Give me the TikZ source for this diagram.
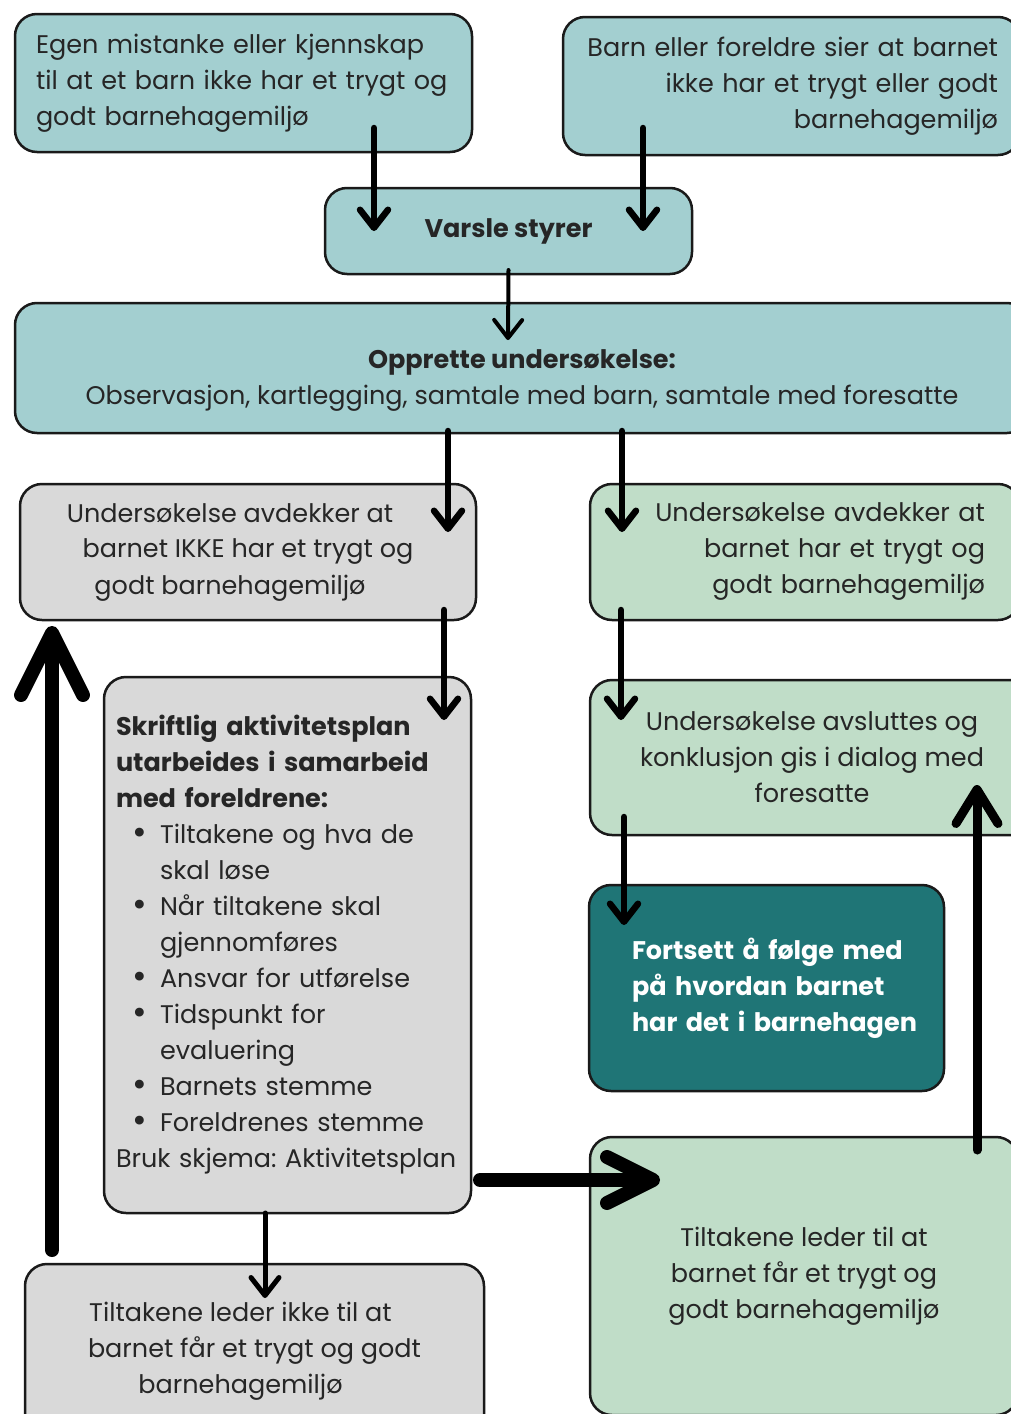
\documentclass[tikz,border=0pt]{standalone}
\usepackage{fontspec}
\setmainfont{Poppins}
\usetikzlibrary{positioning}
\usetikzlibrary{arrows.meta}

\definecolor{lightteal}{HTML}{A3CFD0}
\definecolor{lightgrey}{HTML}{D9D9D9}
\definecolor{lightgreen}{HTML}{C0DDC8}
\definecolor{darkteal}{HTML}{1F7576}
\definecolor{inktext}{HTML}{262626}
\definecolor{boxline}{HTML}{1A1A1A}

\newcommand{\bulitem}{\makebox[44pt][l]{\hspace{16pt}\raisebox{-1pt}{\scalebox{1.4}{\textbullet}}}}
\newcommand{\bulcont}{\hspace*{44pt}}

\begin{document}
\frenchspacing
\begin{tikzpicture}[x=1pt,y=-1pt,
   box/.style={draw=boxline, line width=2.5pt, rounded corners=22pt,
      anchor=north west, text=inktext, inner ysep=0pt, outer sep=0pt,
      font=\fontsize{25.5}{36}\selectfont},
   tealbox/.style={box, fill=lightteal},
   greybox/.style={box, fill=lightgrey},
   greenbox/.style={box, fill=lightgreen},
   flow/.style={line width=6.5pt, line cap=round,
      -{Straight Barb[round,length=18pt,width=28pt]}},
   bigflow/.style={line width=14pt, line cap=round,
      -{Straight Barb[round,length=#1,width=#1]}},
   ]
   \useasboundingbox (0,0) rectangle (1011,1416);
   \clip (0,-10) rectangle (1011,1413);

   % incoming concerns
   \node[tealbox, align=left, inner xsep=21pt, text width=415pt,
      minimum height=138pt] (s1) at (15,14)
      {Egen mistanke eller kjennskap\\ til at et barn ikke har et trygt og\\
       godt barnehagemiljø};
   \node[tealbox, align=right, inner xsep=22pt, text width=413pt,
      minimum height=138pt] (s2) at (563,17)
      {Barn eller foreldre sier at barnet\\ ikke har et trygt eller godt\\
       barnehagemiljø};

   % varsle styrer
   \node[tealbox, minimum width=367pt, minimum height=86pt,
      font=\fontsize{25.5}{36}\selectfont\bfseries] (v0) at (325,188)
      {Varsle styrer};

   % undersøkelse
   \node[tealbox, align=center, minimum width=1014pt, minimum height=130pt] (u0)
      at (15,303)
      {\rule{0pt}{44pt}{\bfseries Opprette undersøkelse:}\\
       Observasjon, kartlegging, samtale med barn, samtale med foresatte};

   % ikke trygt (left column)
   \node[greybox, align=center, minimum width=456pt, minimum height=136pt] (g1)
      at (20,484)
      {Undersøkelse avdekker at\hspace*{36pt}\\
       barnet IKKE har et trygt og\hspace*{36pt}\\
       godt barnehagemiljø\hspace*{36pt}};
   \node[greybox, align=left, inner xsep=12pt, text width=343pt,
      minimum height=536pt] (g2) at (104,677)
      {{\bfseries Skriftlig aktivitetsplan\\ utarbeides i samarbeid\\
       med foreldrene:}\\
       \bulitem Tiltakene og hva de\\ \bulcont skal løse\\
       \bulitem Når tiltakene skal\\ \bulcont gjennomføres\\
       \bulitem Ansvar for utførelse\\
       \bulitem Tidspunkt for\\ \bulcont evaluering\\
       \bulitem Barnets stemme\\
       \bulitem Foreldrenes stemme\\
       \mbox{Bruk skjema: Aktivitetsplan}};
   \node[greybox, align=center, minimum width=459pt, minimum height=174pt] (g3)
      at (25,1264)
      {Tiltakene leder ikke til at\hspace*{28pt}\\
       barnet får et trygt og godt\hspace*{28pt}\\
       barnehagemiljø\hspace*{28pt}};

   % trygt (right column)
   \node[greenbox, align=right, inner xsep=35pt, text width=360pt,
      minimum height=136pt] (r1) at (590,484)
      {Undersøkelse avdekker at\\ barnet har et trygt og\\
       godt barnehagemiljø};
   \node[greenbox, align=center, minimum width=444pt, minimum height=155pt] (r2)
      at (590,680)
      {Undersøkelse avsluttes og\\ konklusjon gis i dialog med\\ foresatte};
   \node[box, fill=darkteal, text=white, align=left, text width=269pt,
      minimum width=355pt, minimum height=206pt,
      font=\fontsize{25.5}{36}\selectfont\bfseries] (t0) at (589,885)
      {\mbox{Fortsett å følge med}\\ \mbox{på hvordan barnet}\\
       \mbox{har det i barnehagen}};
   \node[greenbox, align=center, minimum width=428pt, minimum height=278pt] (r3)
      at (590,1137)
      {Tiltakene leder til at\\ barnet får et trygt og\\
       godt barnehagemiljø};

   % arrows
   \draw[flow] ([xshift=-98pt,yshift=24pt]s1.south east)
      -- ([xshift=49pt]v0.west);
   \draw[flow] ([xshift=80pt,yshift=27pt]s2.south west)
      -- ([xshift=-49pt]v0.east);
   \draw[flow, line width=4pt] ([yshift=4pt]v0.south)
      -- ([xshift=-14pt,yshift=-37pt]u0.north);
   \draw[flow] ([xshift=433pt,yshift=2pt]u0.south west)
      -- ([xshift=-28pt,yshift=-48pt]g1.north east);
   \draw[flow] ([xshift=607pt,yshift=2pt]u0.south west)
      -- ([xshift=32pt,yshift=-48pt]r1.north west);
   \draw[flow] ([xshift=-32pt,yshift=10pt]g1.south east)
      -- ([xshift=-27pt,yshift=-43pt]g2.north east);
   \draw[flow] ([xshift=31pt,yshift=10pt]r1.south west)
      -- ([xshift=31pt,yshift=-40pt]r2.north west);
   \draw[flow] ([xshift=34pt,yshift=18pt]r2.south west)
      -- ([xshift=35pt,yshift=-40pt]t0.north west);
   \draw[flow, line width=5pt] ([xshift=161pt]g2.south west)
      -- ([xshift=240pt,yshift=-34pt]g3.north west);

   % big loop arrows
   \draw[bigflow=46pt] ([xshift=9pt,yshift=33pt]g2.south east)
      -- ([xshift=70pt,yshift=-43pt]r3.north west);
   \draw[bigflow=62pt] ([xshift=27pt,yshift=14pt]g3.north west)
      -- ([xshift=32pt,yshift=-6pt]g1.south west);
   \draw[line width=9pt, line cap=round,
      -{Straight Barb[round,length=34pt,width=42pt]}]
      ([xshift=387pt,yshift=-13pt]r3.north west)
      -- ([xshift=387pt,yshift=50pt]r2.south west);
\end{tikzpicture}
\end{document}
